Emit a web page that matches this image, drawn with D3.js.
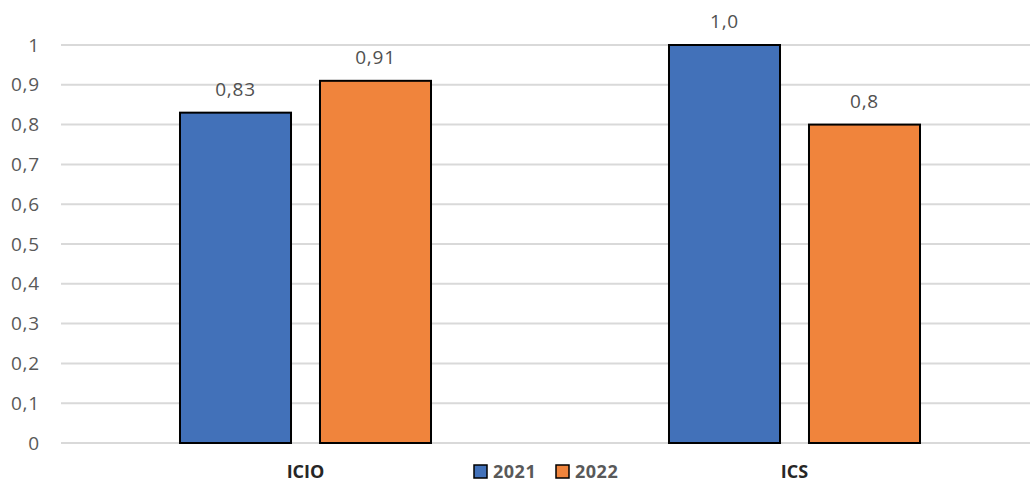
<!DOCTYPE html>
<html><head><meta charset="utf-8">
<script src="https://cdn.jsdelivr.net/npm/d3@7"></script>
<style>body{margin:0;background:#fff}svg{display:block}text{font-family:"Open Sans","Noto Sans",sans-serif}</style>
</head><body><svg id="c" width="1030" height="483"></svg>
<script>
const categories = ["ICIO", "ICS"];
const seriesNames = ["2021", "2022"];
const values2021 = [0.83, 1.0];
const values2022 = [0.91, 0.8];
const valueLabels2021 = ["0,83", "1,0"];
const valueLabels2022 = ["0,91", "0,8"];
const yTicks = [0, 0.1, 0.2, 0.3, 0.4, 0.5, 0.6, 0.7, 0.8, 0.9, 1];
const colors = ["#4271B9", "#F0843C"];

const svg = d3.select("#c");
const x = d3.scaleBand().domain(categories).range([61, 1039]);
const y = d3.scaleLinear().domain([0, 1]).range([443, 45]);
const xs = d3.scaleBand().domain(seriesNames).range([0, x.bandwidth()]).paddingInner(0.207).paddingOuter(0.85);

// grid
svg.append("g").selectAll("line").data(yTicks).join("line")
  .attr("x1", 61).attr("x2", 1030)
  .attr("y1", d => y(d)).attr("y2", d => y(d))
  .attr("stroke", "#d9d9d9").attr("stroke-width", 2);

// y axis labels
const yAxis = d3.axisLeft(y).tickValues(yTicks).tickSize(0).tickPadding(0)
  .tickFormat(d => d3.format(".1~f")(d).replace(".", ","));
const ya = svg.append("g").attr("transform", "translate(40,0)").call(yAxis);
ya.select(".domain").remove();
ya.selectAll("text").attr("font-size", 19).attr("fill", "#595959")
  .attr("letter-spacing", 0.8).attr("font-family", "'Open Sans',sans-serif");

const data = categories.map((c, i) => ({c, vals: [
  {s: "2021", v: values2021[i], l: valueLabels2021[i], col: colors[0]},
  {s: "2022", v: values2022[i], l: valueLabels2022[i], col: colors[1]}
]}));

const g = svg.append("g").selectAll("g").data(data).join("g")
  .attr("transform", d => `translate(${x(d.c)},0)`);
g.selectAll("rect").data(d => d.vals).join("rect")
  .attr("x", d => xs(d.s)).attr("width", xs.bandwidth())
  .attr("y", d => y(d.v)).attr("height", d => y(0) - y(d.v))
  .attr("fill", d => d.col).attr("stroke", "#000").attr("stroke-width", 2);
g.selectAll("text").data(d => d.vals).join("text")
  .attr("x", d => xs(d.s) + xs.bandwidth() / 2).attr("y", d => y(d.v) - 17)
  .attr("text-anchor", "middle").attr("font-size", 19).attr("letter-spacing", 0.8).attr("fill", "#505050")
  .text(d => d.l);

// x axis labels
const xAxis = d3.axisBottom(x).tickSize(0).tickPadding(0);
const xa = svg.append("g").attr("transform", "translate(0,465)").call(xAxis);
xa.select(".domain").remove();
xa.selectAll("text").attr("font-size", 18).attr("font-weight", "bold").attr("fill", "#262626")
  .attr("font-family", "'Open Sans',sans-serif");

// legend
const leg = svg.append("g");
const legX = [474, 556];
seriesNames.forEach((s, i) => {
  leg.append("rect").attr("x", legX[i]).attr("y", 465).attr("width", 13).attr("height", 13)
    .attr("fill", colors[i]).attr("stroke", "#000").attr("stroke-width", 1.5);
  leg.append("text").attr("x", legX[i] + 19).attr("y", 478).attr("font-size", 18)
    .attr("font-weight", "bold").attr("letter-spacing", 0.5).attr("fill", "#595959").text(s);
});
</script></body></html>
